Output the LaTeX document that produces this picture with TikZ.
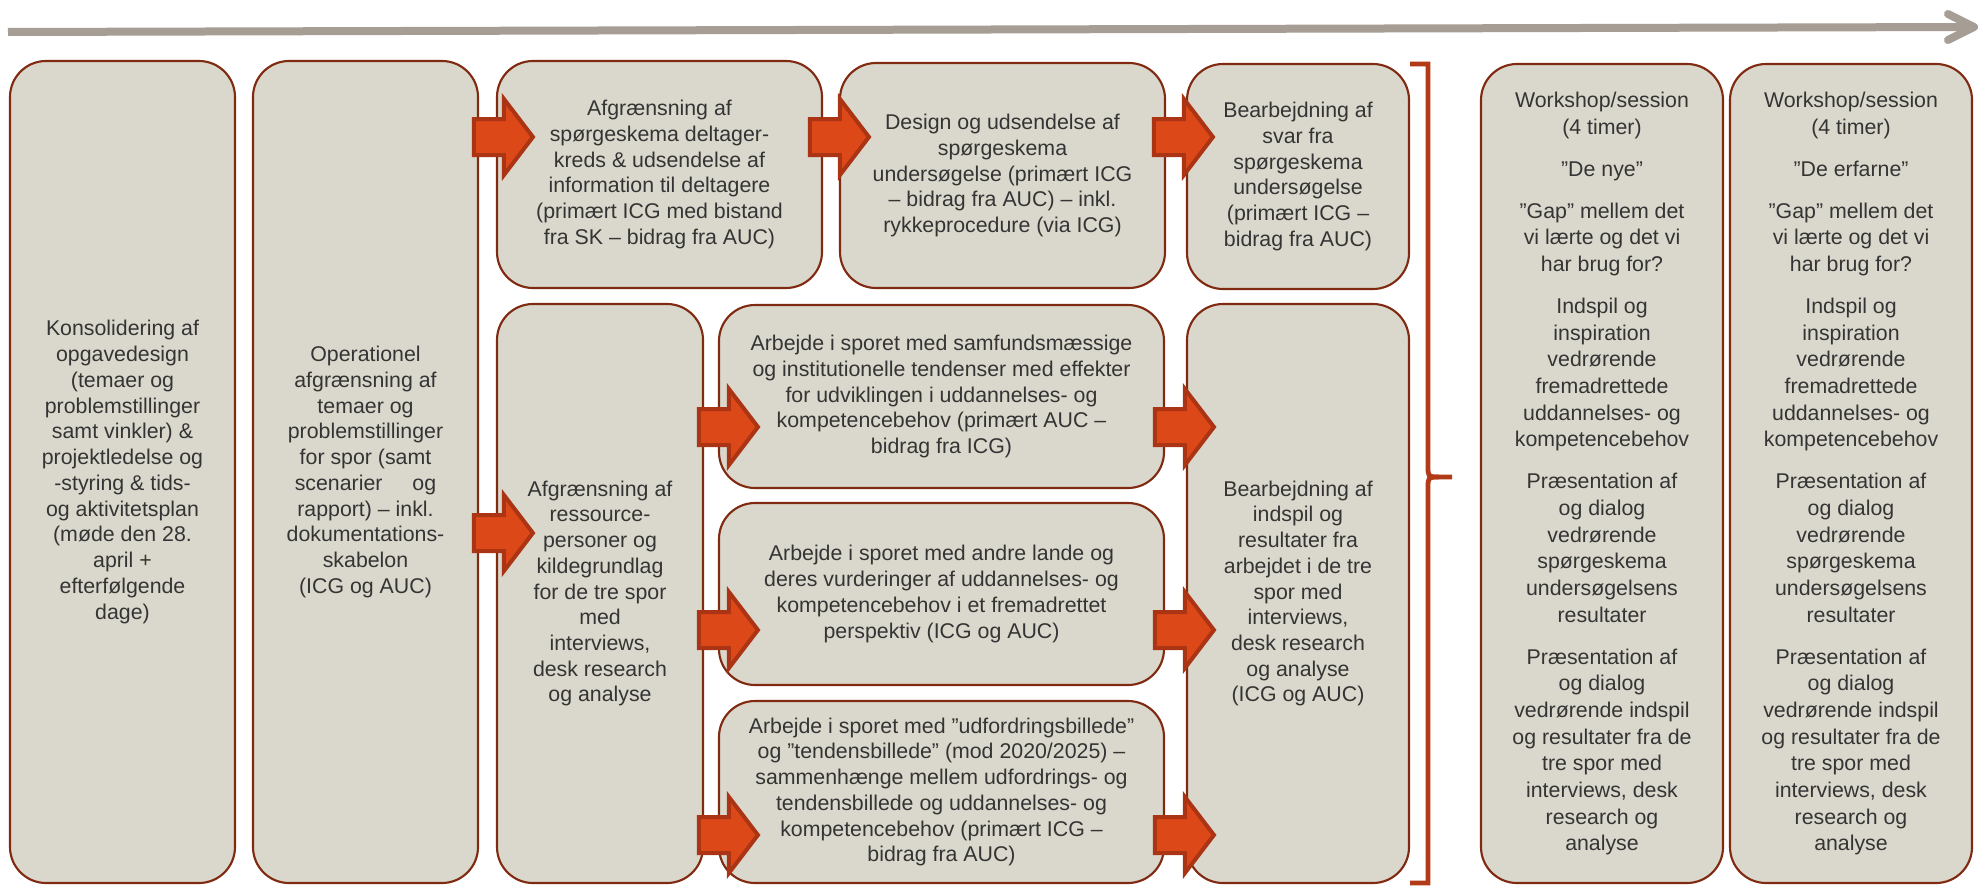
\documentclass[tikz,border=0pt]{standalone}
\usepackage{fontspec}
\setmainfont{Liberation Sans}
\definecolor{boxfill}{RGB}{218,216,204}
\definecolor{boxline}{RGB}{128,42,18}
\definecolor{arrfill}{RGB}{221,72,24}
\definecolor{arrline}{RGB}{170,52,20}
\definecolor{bracecol}{RGB}{178,58,22}
\definecolor{txtcol}{RGB}{52,52,52}
\definecolor{topgray}{RGB}{166,157,149}
\tikzset{
  box/.style={draw=boxline, fill=boxfill, line width=1.6pt, rounded corners=27pt,
    align=center, inner sep=0pt, text=txtcol, font=\fontsize{16}{19.3}\selectfont},
  wsbox/.style={box, font=\fontsize{16}{20}\selectfont},
  blockarrow/.pic={\filldraw[fill=arrfill, draw=arrline, line width=3pt]
    (-3,0) -- (-32,-38) -- (-32,-18) -- (-62,-18) -- (-62,18) -- (-32,18) -- (-32,38) -- cycle;},
  topline/.style={draw=topgray, line width=6pt},
  bracestyle/.style={draw=bracecol, line width=3.6pt},
}
\begin{document}
\begin{tikzpicture}[x=0.75pt, y=-0.75pt]
\useasboundingbox (0,0) rectangle (1983,885);

% time arrow
\coordinate (tl) at (8,32);
\coordinate (tr) at (1974,27);
\coordinate (tu) at (1948,14);
\coordinate (td) at (1948,40);
\draw[topline] (tl) -- (tr);
\draw[topline, line cap=round, line join=round] (tu) -- (tr) -- (td);

% boxes
\node[box, minimum width=168.75pt, minimum height=616.5pt] (b1) at (122.5,472)
 {Konsolidering af\\opgavedesign\\(temaer og\\problemstillinger\\samt vinkler) \&\\projektledelse og\\-styring \& tids-\\og aktivitetsplan\\(møde den 28.\\april +\\efterfølgende\\dage)};
\node[box, minimum width=168.75pt, minimum height=616.5pt] (b2) at (365.5,472)
 {Operationel\\afgrænsning af\\temaer og\\problemstillinger\\for spor (samt\\scenarier\hspace{22.5pt}og\\rapport) – inkl.\\dokumentations-\\skabelon\\(ICG og AUC)};
\node[box, minimum width=243.75pt, minimum height=170.25pt] (b3) at (659.5,174.5)
 {Afgrænsning af\\spørgeskema deltager-\\kreds \& udsendelse af\\information til deltagere\\(primært ICG med bistand\\fra SK – bidrag fra AUC)};
\node[box, minimum width=243.75pt, minimum height=168.75pt] (b4) at (1002.5,175.5)
 {Design og udsendelse af\\spørgeskema\\undersøgelse (primært ICG\\– bidrag fra AUC) – inkl.\\rykkeprocedure (via ICG)};
\node[box, minimum width=166.5pt, minimum height=168.75pt] (b5) at (1298,176.5)
 {Bearbejdning af\\svar fra\\spørgeskema\\undersøgelse\\(primært ICG –\\bidrag fra AUC)};
\node[box, minimum width=154.5pt, minimum height=434.25pt] (bA) at (600,593.5)
 {Afgrænsning af\\ressource-\\personer og\\kildegrundlag\\for de tre spor\\med\\interviews,\\desk research\\og analyse};
\node[box, minimum width=333.75pt, minimum height=137.25pt] (t1) at (941.5,396.5)
 {Arbejde i sporet med samfundsmæssige\\og institutionelle tendenser med effekter\\for udviklingen i uddannelses- og\\kompetencebehov (primært AUC –\\bidrag fra ICG)};
\node[box, minimum width=333.75pt, minimum height=136.5pt] (t2) at (941.5,594)
 {Arbejde i sporet med andre lande og\\deres vurderinger af uddannelses- og\\kompetencebehov i et fremadrettet\\perspektiv (ICG og AUC)};
\node[box, minimum width=333.75pt, minimum height=136.5pt] (t3) at (941.5,792)
 {Arbejde i sporet med ”udfordringsbillede”\\og ”tendensbillede” (mod 2020/2025) –\\sammenhænge mellem udfordrings- og\\tendensbillede og uddannelses- og\\kompetencebehov (primært ICG –\\bidrag fra AUC)};
\node[box, minimum width=166.5pt, minimum height=434.25pt] (bB) at (1298,593.5)
 {Bearbejdning af\\indspil og\\resultater fra\\arbejdet i de tre\\spor med\\interviews,\\desk research\\og analyse\\(ICG og AUC)};
\node[wsbox, minimum width=181.5pt, minimum height=614.25pt] (w1) at (1602,473.5)
 {Workshop/session\\(4 timer)\\[11.5pt]”De nye”\\[11.5pt]”Gap” mellem det\\vi lærte og det vi\\har brug for?\\[11.5pt]Indspil og\\inspiration\\vedrørende\\fremadrettede\\uddannelses- og\\kompetencebehov\\[11.5pt]Præsentation af\\og dialog\\vedrørende\\spørgeskema\\undersøgelsens\\resultater\\[11.5pt]Præsentation af\\og dialog\\vedrørende indspil\\og resultater fra de\\tre spor med\\interviews, desk\\research og\\analyse};
\node[wsbox, minimum width=181.5pt, minimum height=614.25pt] (w2) at (1851,473.5)
 {Workshop/session\\(4 timer)\\[11.5pt]”De erfarne”\\[11.5pt]”Gap” mellem det\\vi lærte og det vi\\har brug for?\\[11.5pt]Indspil og\\inspiration\\vedrørende\\fremadrettede\\uddannelses- og\\kompetencebehov\\[11.5pt]Præsentation af\\og dialog\\vedrørende\\spørgeskema\\undersøgelsens\\resultater\\[11.5pt]Præsentation af\\og dialog\\vedrørende indspil\\og resultater fra de\\tre spor med\\interviews, desk\\research og\\analyse};

% block arrows (tip positions on target boxes)
\coordinate (p0) at (b3.west |- 0,137);
\coordinate (p1) at (b4.west |- 0,137);
\coordinate (p2) at (b5.west |- 0,137);
\coordinate (p3) at (bA.west |- 0,533);
\coordinate (p4) at (t1.west |- 0,427);
\coordinate (p5) at (t2.west |- 0,630);
\coordinate (p6) at (t3.west |- 0,835);
\coordinate (p7) at (bB.west |- 0,427);
\coordinate (p8) at (bB.west |- 0,630);
\coordinate (p9) at (bB.west |- 0,835);
\pic at ([xshift=30pt]p0) {blockarrow};
\pic at ([xshift=24.75pt]p1) {blockarrow};
\pic at ([xshift=22.5pt]p2) {blockarrow};
\pic at ([xshift=30pt]p3) {blockarrow};
\pic at ([xshift=32.25pt]p4) {blockarrow};
\pic at ([xshift=32.25pt]p5) {blockarrow};
\pic at ([xshift=32.25pt]p6) {blockarrow};
\pic at ([xshift=23.25pt]p7) {blockarrow};
\pic at ([xshift=23.25pt]p8) {blockarrow};
\pic at ([xshift=23.25pt]p9) {blockarrow};

% bracket
\coordinate (brt) at (1410,64);
\coordinate (brb) at (1410,883);
\coordinate (brtip) at (1452,477);
\draw[bracestyle] (brt) -- (1428,64) -- (1428,466) .. controls (1428,477) .. (1439,477) -- (brtip);
\draw[bracestyle] (brb) -- (1428,883) -- (1428,488) .. controls (1428,477) .. (1439,477);
\end{tikzpicture}
\end{document}
